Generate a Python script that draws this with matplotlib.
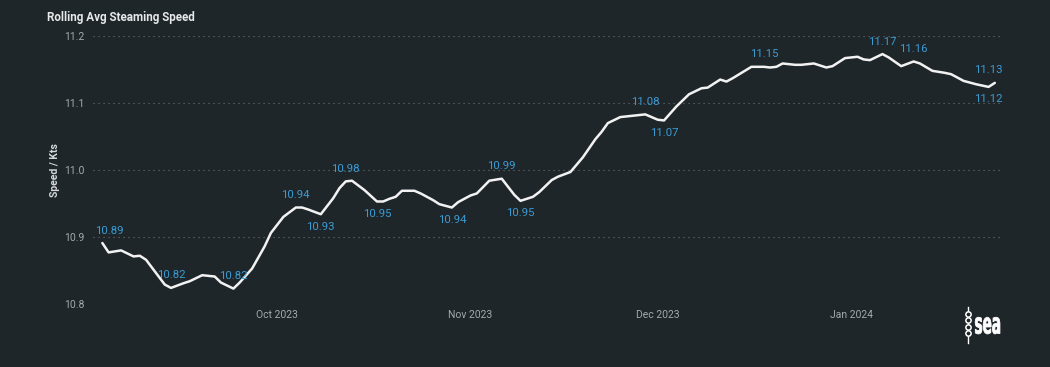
import matplotlib
matplotlib.use('Agg')
from matplotlib import pyplot as plt
import matplotlib.dates as mdates
from matplotlib.lines import Line2D
from matplotlib.textpath import TextPath
from matplotlib.patches import PathPatch
from matplotlib.font_manager import FontProperties
from matplotlib.transforms import Affine2D
import pandas as pd

### Data
dates = [
	'2023-09-03', '2023-09-04', '2023-09-06', '2023-09-08', '2023-09-09', '2023-09-10',
	'2023-09-13', '2023-09-14', '2023-09-16', '2023-09-17', '2023-09-19', '2023-09-20',
	'2023-09-21', '2023-09-22', '2023-09-24', '2023-09-25', '2023-09-27', '2023-09-29',
	'2023-09-30', '2023-10-02', '2023-10-04', '2023-10-05', '2023-10-06', '2023-10-08',
	'2023-10-10', '2023-10-11', '2023-10-12', '2023-10-13', '2023-10-15', '2023-10-17',
	'2023-10-18', '2023-10-19', '2023-10-20', '2023-10-21', '2023-10-23', '2023-10-24',
	'2023-10-26', '2023-10-27', '2023-10-29', '2023-10-30', '2023-11-01', '2023-11-02',
	'2023-11-04', '2023-11-06', '2023-11-08', '2023-11-09', '2023-11-11', '2023-11-12',
	'2023-11-14', '2023-11-15', '2023-11-17', '2023-11-19', '2023-11-21', '2023-11-22',
	'2023-11-23', '2023-11-25', '2023-11-26', '2023-11-27', '2023-11-29', '2023-12-01',
	'2023-12-02', '2023-12-04', '2023-12-06', '2023-12-08', '2023-12-09', '2023-12-11',
	'2023-12-12', '2023-12-13', '2023-12-16', '2023-12-18', '2023-12-19', '2023-12-20',
	'2023-12-21', '2023-12-23', '2023-12-24', '2023-12-26', '2023-12-28', '2023-12-29',
	'2023-12-31', '2024-01-02', '2024-01-03', '2024-01-04', '2024-01-06', '2024-01-07',
	'2024-01-09', '2024-01-11', '2024-01-12', '2024-01-14', '2024-01-16', '2024-01-17',
	'2024-01-19', '2024-01-21', '2024-01-23', '2024-01-24',
]
speed = [
	10.891, 10.877, 10.880, 10.871, 10.872, 10.866,
	10.829, 10.824, 10.831, 10.834, 10.843, 10.842,
	10.841, 10.832, 10.823, 10.832, 10.853, 10.886,
	10.906, 10.930, 10.944, 10.944, 10.941, 10.934,
	10.958, 10.973, 10.983, 10.984, 10.970, 10.953,
	10.953, 10.957, 10.960, 10.969, 10.969, 10.965,
	10.955, 10.949, 10.944, 10.952, 10.962, 10.965,
	10.984, 10.987, 10.963, 10.954, 10.960, 10.967,
	10.985, 10.990, 10.997, 11.019, 11.046, 11.057,
	11.070, 11.079, 11.080, 11.081, 11.083, 11.075,
	11.074, 11.095, 11.113, 11.122, 11.123, 11.135,
	11.132, 11.137, 11.154, 11.154, 11.153, 11.154,
	11.159, 11.157, 11.157, 11.159, 11.153, 11.155,
	11.167, 11.169, 11.165, 11.164, 11.173, 11.168,
	11.155, 11.162, 11.159, 11.148, 11.145, 11.143,
	11.133, 11.128, 11.124, 11.130,
]

# Points that carry a data label, and whether it sits above or below
label_dates = ['2023-09-03', '2023-09-14', '2023-09-24', '2023-10-04', '2023-10-08',
	'2023-10-12', '2023-10-17', '2023-10-29', '2023-11-06', '2023-11-09', '2023-11-29',
	'2023-12-02', '2023-12-18', '2024-01-06', '2024-01-11', '2024-01-23', '2024-01-24']
label_side = ['above', 'above', 'above', 'above', 'below',
	'above', 'below', 'below', 'above', 'below', 'above',
	'below', 'above', 'above', 'above', 'below', 'above']

y_ticks = [10.8, 10.9, 11.0, 11.1, 11.2]
x_ticks = ['2023-10-01', '2023-11-01', '2023-12-01', '2024-01-01']

x = pd.to_datetime(dates)

### Style
bg = '#1f262a'
grid_clr = '#6c7276'
tick_clr = '#a3a9ad'
label_clr = '#3b9bd3'
plt.rcParams['font.family'] = ['Roboto', 'DejaVu Sans']

fig = plt.figure(figsize=(10.5, 3.67), dpi=100, facecolor=bg)
ax = fig.add_axes([93/1050, 63/367, 907/1050, 268/367])
ax.set_facecolor(bg)

ax.plot(x, speed, color='#f2f2f2', linewidth=1.8, solid_joinstyle='round',
	solid_capstyle='round', zorder=5)

# Data labels
for d, side in zip(label_dates, label_side):
	i = dates.index(d)
	dx = 0
	if i == 0:
		dx = 5
	elif i == len(dates) - 1:
		dx = -5
	dy = 9 if side == 'above' else -9
	ax.annotate(f'{speed[i]:.2f}', (x[i], speed[i]), xytext=(dx, dy),
		textcoords='offset points', ha='center', va='center',
		fontsize=8.2, color=label_clr, zorder=6)

# Axes
ax.set_ylim(10.8, 11.2)
ax.set_xlim(pd.Timestamp('2023-09-01 12:00'), pd.Timestamp('2024-01-24 20:00'))
ax.set_yticks(y_ticks)
ax.set_yticklabels([f'{t:.1f}' for t in y_ticks])
ax.set_xticks(pd.to_datetime(x_ticks))
ax.xaxis.set_major_formatter(mdates.DateFormatter('%b %Y'))
ax.tick_params(axis='both', length=0, colors=tick_clr, labelsize=7.5)
ax.tick_params(axis='y', pad=6)
ax.tick_params(axis='x', pad=4)
ax.grid(axis='y', color=grid_clr, linestyle=(0, (1, 3.5)), linewidth=0.8)
ax.set_axisbelow(True)
for s in ax.spines.values():
	s.set_visible(False)

# Titles
fig.text(47/1050, 1 - 17/367, 'Rolling Avg Steaming Speed', ha='left', va='center',
	fontsize=8.4, fontweight='bold', color='#e6e8ea')
fig.text(55/1050, 1 - 170/367, 'Speed / Kts', rotation=90, ha='center', va='center',
	fontsize=7.5, fontweight='bold', color='#d6d9db')

# "sea" logo in bottom right corner
fig.add_artist(Line2D([967.5/1050, 967.5/1050], [1 - 307/367, 1 - 343/367],
	transform=fig.transFigure, color='white', linewidth=1))
fig.add_artist(Line2D([967.5/1050]*4, [1 - v/367 for v in (313.5, 320, 326.5, 333)],
	transform=fig.transFigure, linestyle='', marker='o', markersize=3.8,
	markerfacecolor=bg, markeredgecolor='white', markeredgewidth=1.1))
tp = TextPath((0, 0), 'sea', size=1, prop=FontProperties(family='DejaVu Sans', weight='bold'))
logo_tr = Affine2D().scale(13.6/1050, 29/367).translate(974.5/1050, 1 - 333.5/367) + fig.transFigure
fig.add_artist(PathPatch(tp, transform=logo_tr, facecolor='white', edgecolor='white',
	linewidth=0.6))

plt.savefig('out.png', dpi=100, facecolor=bg)
